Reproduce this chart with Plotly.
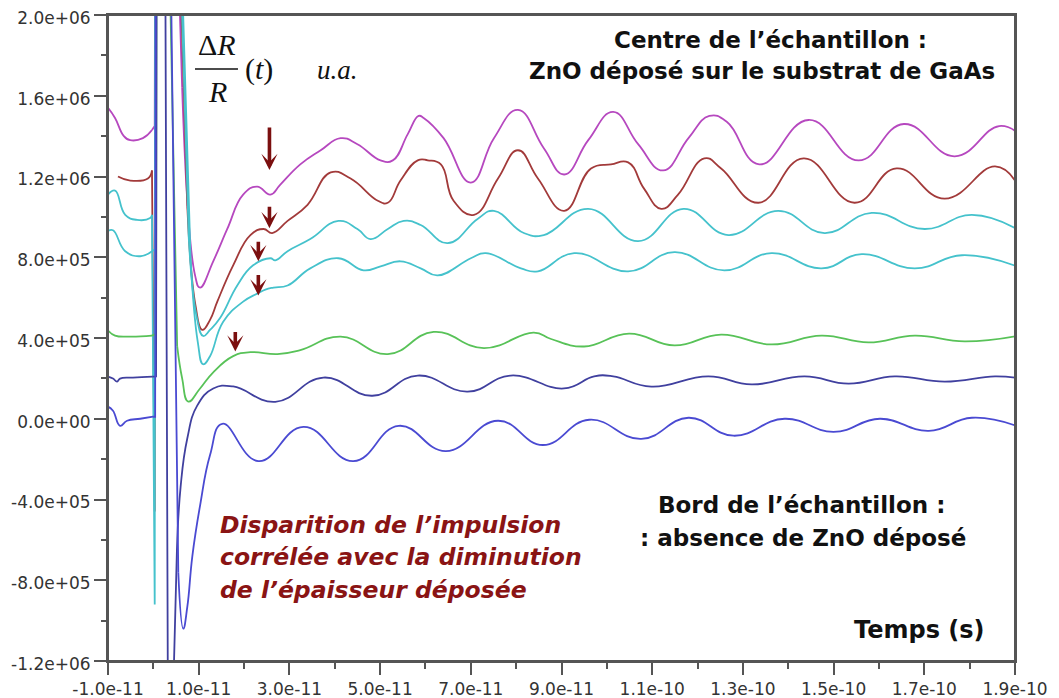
import numpy as np
import plotly.graph_objects as go

# ---------------- data (time in ps, signal in units of 1e5) ----------------
MAG_T = [-10, -8.45, -6.5, -5.1, -2.3, -0.3, 0.3, 0.6, 2.5, 6.35, 9.2, 10.3, 13.2, 16.3, 19.8, 22.9,
         25.8, 28.0, 32.4, 36.9, 41.3, 45.0, 50.1, 52.8, 56.1, 58.5, 59.6, 64.0, 70.0, 75.1, 80.4,
         86.1, 90.6, 95.9, 101.4, 106.9, 112.4, 118.0, 122.6, 126.5, 133.6, 144.5, 155.5, 165.5,
         176.7, 186.5, 190.9]
MAG_Y = [15.4, 14.9, 14.0, 13.8, 13.9, 14.3, 14.5, 45, 45, 16.4, 7.1, 6.5, 7.8, 9.4, 11.1, 11.5,
         11.1, 11.6, 12.6, 13.3, 13.9, 13.6, 12.8, 12.8, 14.1, 15.0, 14.9, 13.9, 11.7, 13.9, 15.3,
         13.4, 12.1, 13.8, 15.2, 13.6, 12.3, 13.9, 15.0, 14.7, 12.6, 14.8, 12.8, 14.6,
         13.0, 14.5, 14.1]

RED_T = [-7.8, -5.1, -1.2, -0.3, 0.3, 0.5, 2.8, 7.5, 9.3, 10.8, 12.5, 14.1, 17.6, 21.4, 24.3, 26.2,
         29.6, 34.0, 39.1, 43.5, 49.5, 51.7, 54.5, 58.3, 60.5, 63.4, 66.2, 70.7, 76.0, 80.4, 84.8,
         90.6, 96.5, 100.9, 104.7, 108.2, 112.0, 115.7, 121.5, 125.2, 133.4, 143.4, 154.6, 163.9,
         174.5, 185.6, 190.0]
RED_Y = [12.0, 11.8, 11.9, 12.3, -4.6, 45, 45, 10.5, 5.6, 4.4, 4.9, 5.8, 7.6, 9.1, 9.4, 9.2,
         9.8, 10.6, 12.2, 11.9, 10.8, 10.7, 11.8, 12.8, 12.8, 12.6, 10.8, 10.1, 11.9, 13.3, 11.9,
         10.3, 12.4, 12.6, 12.7, 11.4, 10.4, 11.1, 12.9, 12.4, 10.7, 12.9, 10.7, 12.4,
         10.9, 12.5, 11.8]

CY1_T = [-10, -8.45, -6.2, -3.6, -0.7, -0.3, 0.3, 0.5, 3.0, 7.8, 9.6, 11.0, 12.5, 14.75, 18.5, 22.0,
         25.8, 26.9, 29.6, 34.6, 40.8, 45.0, 47.9, 51.7, 55.2, 58.95, 64.9, 71.5, 75.1, 81.7, 86.1,
         95.9, 106.9, 116.9, 126.8, 137.8, 148.0, 158.4, 170.1, 180.5, 190.4]
CY1_Y = [11.1, 11.3, 10.1, 9.85, 9.94, 10.1, -9.2, 45, 45, 9.0, 5.0, 4.1, 4.4, 5.0, 6.6, 7.6,
         7.95, 7.85, 8.3, 8.9, 9.8, 9.4, 8.9, 9.4, 9.8, 9.6, 8.7, 9.9, 10.3, 9.2, 9.1,
         10.4, 8.8, 10.4, 9.1, 10.3, 9.2, 10.2, 9.4, 10.1, 9.4]

CY2_T = [-10, -8.9, -6.2, -2.9, -0.3, 0.4, 0.7, 3.2, 8.2, 9.8, 11.0, 12.5, 15.4, 19.8, 22.9, 24.7,
         26.5, 29.6, 34.6, 40.8, 46.35, 50.1, 54.5, 58.95, 62.7, 70.0, 73.3, 81.05, 84.8, 92.8,
         104.7, 114.9, 125.9, 136.3, 147.35, 156.2, 167.9, 178.3, 190.4]
CY2_Y = [9.3, 9.34, 8.3, 8.05, 8.3, 8.4, 45, 45, 8.0, 3.8, 2.7, 3.1, 4.8, 5.8, 6.2, 6.4,
         6.5, 6.6, 7.45, 7.95, 7.35, 7.55, 7.8, 7.45, 7.1, 7.95, 8.2, 7.45, 7.3, 8.2,
         7.3, 8.25, 7.35, 8.2, 7.45, 8.15, 7.45, 8.1, 7.55]

GRN_T = [-10, -8.45, -5.1, -0.3, 0.6, 0.8, 1.6, 5.25, 6.35, 7.7, 10.3, 13.2, 17.6, 21.4, 27.35,
         32.4, 41.3, 51.7, 61.8, 72.9, 83.9, 87.7, 94.97, 104.9, 114.9, 125.2, 136.3, 147.35,
         157.7, 167.9, 178.9, 190.9]
GRN_Y = [4.37, 4.12, 4.07, 4.12, 4.2, 45, 45, 3.6, 2.0, 0.85, 1.5, 2.3, 3.1, 3.3, 3.2,
         3.4, 4.07, 3.2, 4.3, 3.5, 4.27, 3.95, 3.58, 4.22, 3.63, 4.17, 3.68, 4.12,
         3.78, 4.12, 3.83, 4.12]

BL1_T = [-10, -8.9, -8.0, -7.35, -4.5, -0.1, 0.6, 0.85, 1.6, 2.6, 3.3, 3.9, 4.5, 5.2, 6.0, 7.46,
         9.67, 13.2, 17.6, 26.9, 37.5, 48.3, 58.3, 69.3, 78.8, 90.55, 97.2, 101.4, 109.8, 122.4,
         131.9, 143.6, 153.3, 163.5, 174.5, 185.6, 190.9]
BL1_Y = [2.09, 1.99, 1.84, 1.99, 2.04, 2.09, 2.1, 45, 45, 25, -20, -20, -12.5, -6.5, -3.4, -1.0,
         0.65, 1.5, 1.6, 0.84, 2.04, 1.14, 2.14, 1.34, 2.14, 1.5, 2.1, 2.1, 1.59, 2.1,
         1.7, 2.1, 1.74, 2.1, 1.84, 2.1, 2.0]

BL2_T = [-10, -8.9, -7.35, -5.8, -2.9, -0.06, 0.4, 0.6, 2.6, 5.5, 6.6, 7.5, 8.6, 10.3, 12.5, 15.2,
         23.15, 33.1, 44.1, 54.1, 64.5, 76.0, 85.9, 96.1, 107.6, 118.0, 127.9, 139.2, 150.0,
         160.2, 171.0, 180.5, 190.9]
BL2_Y = [0.6, 0.4, -0.35, -0.1, 0.0, 0.1, 0.1, 45, 45, -7.6, -10.4, -9.3, -6.8, -4.3, -1.8, -0.25,
         -2.1, -0.4, -2.1, -0.35, -1.6, -0.1, -1.3, -0.05, -1.0, 0.05, -0.84, 0.0, -0.65,
         0.0, -0.6, 0.05, -0.4]

CURVES = [
    ("magenta", MAG_T, MAG_Y, "#b648bf"),
    ("rouge", RED_T, RED_Y, "#a23a3a"),
    ("cyan 1", CY1_T, CY1_Y, "#45c2cc"),
    ("cyan 2", CY2_T, CY2_Y, "#45c2cc"),
    ("vert", GRN_T, GRN_Y, "#58c258"),
    ("bleu 1", BL1_T, BL1_Y, "#40409f"),
    ("bleu 2", BL2_T, BL2_Y, "#4a4ad2"),
]

X_TICKS = [-1e-11, 1e-11, 3e-11, 5e-11, 7e-11, 9e-11, 1.1e-10, 1.3e-10, 1.5e-10, 1.7e-10, 1.9e-10]
X_LABELS = ["-1.0e-11", "1.0e-11", "3.0e-11", "5.0e-11", "7.0e-11", "9.0e-11",
            "1.1e-10", "1.3e-10", "1.5e-10", "1.7e-10", "1.9e-10"]
Y_TICKS = [-1.2e6, -8e5, -4e5, 0, 4e5, 8e5, 1.2e6, 1.6e6, 2.0e6]
Y_LABELS = ["-1.2e+06", "-8.0e+05", "-4.0e+05", "0.0e+00", "4.0e+05", "8.0e+05",
            "1.2e+06", "1.6e+06", "2.0e+06"]

# arrows: tip time (ps), tip value (1e5), length (px)
ARROW_T = [25.6, 25.6, 23.15, 23.15, 18.07]
ARROW_Y = [12.32, 9.44, 7.80, 6.11, 3.33]
ARROW_LEN = [44, 23, 21, 22, 21]

PS = 1e-12
UNIT = 1e5

fig = go.Figure()


def parts(t, y):
    t = np.asarray(t, float)
    y = np.asarray(y, float)
    i_pre = np.where(t <= 0)[0][-1]
    off = np.where((t > 0) & ((y > 20) | (y < -12)))[0]
    i_post = off[-1] + 1
    return [(slice(0, i_pre + 1), "spline"),
            (slice(i_pre, i_post + 1), "linear"),
            (slice(i_post, None), "spline")]


for name, t, y, col in CURVES:
    ta = np.asarray(t, float) * PS
    ya = np.asarray(y, float) * UNIT
    for sl, shape in parts(t, y):
        fig.add_trace(go.Scatter(
            x=ta[sl], y=ya[sl], mode="lines", name=name, showlegend=False,
            line=dict(color=col, width=1.8, shape=shape, smoothing=1.3),
            hoverinfo="skip"))

ann = []
for at, ay_, L in zip(ARROW_T, ARROW_Y, ARROW_LEN):
    ann.append(dict(x=at * PS, y=ay_ * UNIT, xref="x", yref="y", text="", showarrow=True,
                    ax=0, ay=-L, arrowhead=3, arrowsize=0.75, arrowwidth=3.6,
                    arrowcolor="#7b0f0f", standoff=0))

BLACK_FONT = dict(family="DejaVu Sans", size=23, color="#111111", weight="bold")
RED_FONT = dict(family="DejaVu Sans", size=23.5, color="#8a1414", weight="bold", style="italic")


def txt(s, x, y, font, xanchor="center"):
    return dict(text=s, x=x, y=y, xref="paper", yref="paper", showarrow=False,
                xanchor=xanchor, yanchor="middle", font=font)


ann += [
    txt("Centre de l’échantillon :", 0.730, 0.962, BLACK_FONT),
    txt("ZnO déposé sur le substrat de GaAs", 0.721, 0.914, BLACK_FONT),
    txt("Bord de l’échantillon :", 0.765, 0.2415, BLACK_FONT),
    txt(": absence de ZnO déposé", 0.766, 0.190, BLACK_FONT),
    txt("Disparition de l’impulsion", 0.1213, 0.2105, RED_FONT, "left"),
    txt("corrélée avec la diminution", 0.1213, 0.161, RED_FONT, "left"),
    txt("de l’épaisseur déposée", 0.1213, 0.110, RED_FONT, "left"),
    txt("Temps (s)", 0.895, 0.048, dict(BLACK_FONT, size=24)),
    txt("Δ<i>R</i>", 0.1202, 0.9536, dict(family="Liberation Serif", size=30, color="#111")),
    txt("<i>R</i>", 0.1202, 0.881, dict(family="Liberation Serif", size=30, color="#111")),
    txt("(<i>t</i>)", 0.1665, 0.9164, dict(family="Liberation Serif", size=30, color="#111")),
    txt("<i>u.a.</i>", 0.2525, 0.915, dict(family="Liberation Serif", size=27, color="#111")),
]

fig.add_shape(type="line", xref="paper", yref="paper", x0=0.0959, x1=0.1433, y0=0.9164, y1=0.9164,
              line=dict(color="#111", width=1.5))
# plot frame
fig.add_shape(type="rect", xref="paper", yref="paper", x0=0, x1=1, y0=0, y1=1,
              line=dict(color="#555", width=2), layer="above")

axis_common = dict(showline=True, linecolor="#555", linewidth=2, mirror=True,
                   ticks="outside", tickcolor="#555", tickwidth=1.5, ticklen=12,
                   showgrid=False, zeroline=False, automargin=False,
                   ticklabeloverflow="allow",
                   tickfont=dict(family="DejaVu Sans", size=17, color="#333"))

# the page body adds an 8 px margin: figure is sized/offset to compensate
fig.update_layout(
    width=1051, height=690,
    margin=dict(l=100, r=44, t=7, b=37, autoexpand=False),
    paper_bgcolor="white", plot_bgcolor="white",
    showlegend=False,
    annotations=ann,
    xaxis=dict(range=[-1e-11, 1.9e-10], tickmode="array", tickvals=X_TICKS, ticktext=X_LABELS,
               minor=dict(tick0=0, dtick=2e-11, ticks="outside", ticklen=6, tickcolor="#555",
                          tickwidth=1.5),
               **axis_common),
    yaxis=dict(range=[-1.2e6, 2.0e6], tickmode="array", tickvals=Y_TICKS, ticktext=Y_LABELS,
               ticklabelshift=3,
               minor=dict(tick0=-1e6, dtick=4e5, ticks="outside", ticklen=5, tickcolor="#555",
                          tickwidth=1.5),
               **axis_common),
)

fig.write_html("out.html")
